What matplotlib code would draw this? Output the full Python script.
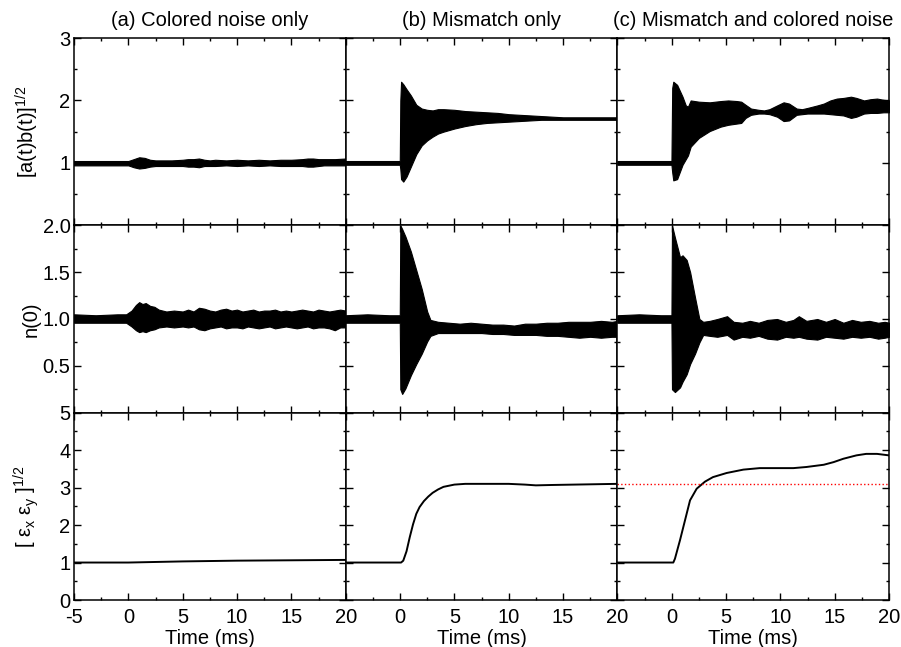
import matplotlib
matplotlib.use("Agg")
import matplotlib.pyplot as plt
from matplotlib.ticker import MultipleLocator, FuncFormatter

plt.rcParams['font.family'] = ['Liberation Sans', 'DejaVu Sans']
plt.rcParams['mathtext.fontset'] = 'custom'
plt.rcParams['mathtext.rm'] = 'Liberation Sans'
plt.rcParams['mathtext.it'] = 'Liberation Sans:italic'
plt.rcParams['mathtext.sf'] = 'Liberation Sans'
plt.rcParams['axes.unicode_minus'] = False

titles = ["(a) Colored noise only", "(b) Mismatch only", "(c) Mismatch and colored noise"]
ylabels = ["[a(t)b(t)]$^{1/2}$", "n(0)", "[ ε$_\\mathrm{x}$ ε$_\\mathrm{y}$ ]$^{1/2}$"]
xlabel = "Time (ms)"

# ---- row 1: [a(t)b(t)]^1/2, envelope of the fast oscillation ----
t_ab_a = [-5, -1, 0, 0.5, 1.0, 1.5, 2.0, 2.5, 3, 4, 5, 5.5, 6, 6.5, 7, 7.5, 8, 9, 10,
          11, 12, 13, 14, 15, 16, 16.5, 17, 17.5, 18, 19, 20]
hi_ab_a = [1.03, 1.03, 1.03, 1.06, 1.09, 1.08, 1.05, 1.04, 1.04, 1.04, 1.05, 1.06, 1.06, 1.07, 1.05, 1.04,
           1.05, 1.04, 1.05, 1.04, 1.05, 1.04, 1.05, 1.05, 1.06, 1.07, 1.07, 1.06, 1.06, 1.06, 1.07]
lo_ab_a = [0.96, 0.96, 0.96, 0.93, 0.91, 0.92, 0.94, 0.95, 0.95, 0.95, 0.95, 0.94, 0.94, 0.93, 0.95, 0.95,
           0.95, 0.96, 0.95, 0.96, 0.95, 0.96, 0.95, 0.95, 0.95, 0.94, 0.94, 0.95, 0.96, 0.96, 0.96]

t_ab_b = [-5, -0.02, 0.03, 0.1, 0.3, 0.6, 1.0, 1.5, 2.0, 2.5, 3.0, 3.5, 4, 5, 6, 7, 8, 9, 10,
          11, 12, 13, 14, 15, 16, 17, 18, 19, 20]
hi_ab_b = [1.03, 1.03, 2.0, 2.30, 2.26, 2.18, 2.08, 1.93, 1.87, 1.85, 1.84, 1.86, 1.86, 1.85, 1.83, 1.82,
           1.81, 1.80, 1.78, 1.77, 1.76, 1.75, 1.74, 1.73, 1.73, 1.73, 1.73, 1.73, 1.73]
lo_ab_b = [0.97, 0.97, 0.9, 0.74, 0.70, 0.78, 0.94, 1.14, 1.28, 1.36, 1.42, 1.47, 1.50, 1.55, 1.59, 1.62,
           1.64, 1.65, 1.66, 1.67, 1.68, 1.69, 1.69, 1.69, 1.69, 1.69, 1.69, 1.69, 1.69]

t_ab_c = [-5, -0.02, 0.05, 0.15, 0.5, 1.0, 1.3, 1.5, 1.75, 2.5, 3.5, 4.5, 5.2, 6.0, 6.4, 6.8, 7.3, 8.0,
          8.5, 9.0, 9.7, 10.3, 10.8, 11.5, 12.0, 12.5, 13.4, 14.0, 14.6, 15.2, 15.8, 16.5, 17.0, 17.7,
          18.3, 18.9, 19.5, 20]
hi_ab_c = [1.03, 1.03, 2.2, 2.30, 2.25, 2.06, 1.92, 1.90, 2.00, 1.98, 1.97, 1.99, 2.00, 1.99, 1.98, 1.93,
           1.87, 1.85, 1.84, 1.86, 1.92, 1.97, 1.95, 1.87, 1.86, 1.88, 1.92, 1.95, 2.00, 2.03, 2.04, 2.06,
           2.04, 2.00, 2.02, 2.03, 2.01, 2.00]
lo_ab_c = [0.97, 0.97, 0.85, 0.72, 0.74, 0.97, 1.06, 1.12, 1.26, 1.40, 1.51, 1.58, 1.61, 1.63, 1.64, 1.72,
           1.77, 1.79, 1.79, 1.78, 1.74, 1.67, 1.68, 1.77, 1.78, 1.79, 1.79, 1.79, 1.78, 1.77, 1.76, 1.72,
           1.74, 1.79, 1.80, 1.80, 1.81, 1.81]

# ---- row 2: n(0) envelope ----
t_n_a = [-5, -3, -1, -0.2, 0.3, 0.7, 1.0, 1.3, 1.6, 2.0, 2.4, 2.8, 3.5, 4.2, 5.0, 5.5, 6.0, 6.5, 7.0,
         7.5, 8.0, 8.5, 9.0, 9.5, 10.0, 10.5, 11.0, 11.5, 12.0, 12.5, 13, 13.5, 14, 14.5, 15, 15.5,
         16, 16.5, 17, 17.5, 18, 18.5, 19, 19.5, 20]
hi_n_a = [1.05, 1.04, 1.05, 1.05, 1.09, 1.15, 1.18, 1.16, 1.17, 1.14, 1.13, 1.10, 1.08, 1.09, 1.08, 1.10,
          1.08, 1.12, 1.11, 1.09, 1.08, 1.10, 1.11, 1.09, 1.10, 1.08, 1.09, 1.10, 1.08, 1.09, 1.09, 1.10,
          1.08, 1.09, 1.08, 1.09, 1.10, 1.09, 1.08, 1.10, 1.09, 1.08, 1.09, 1.10, 1.09]
lo_n_a = [0.96, 0.96, 0.96, 0.96, 0.92, 0.88, 0.86, 0.87, 0.86, 0.88, 0.89, 0.91, 0.92, 0.91, 0.92, 0.91,
          0.92, 0.89, 0.88, 0.90, 0.91, 0.92, 0.90, 0.91, 0.91, 0.90, 0.92, 0.91, 0.90, 0.91, 0.92, 0.90,
          0.91, 0.92, 0.91, 0.90, 0.91, 0.92, 0.90, 0.91, 0.91, 0.90, 0.88, 0.91, 0.91]

t_n_b = [-5, -3, -1, -0.02, 0.03, 0.2, 0.5, 1.0, 1.5, 2.0, 2.5, 2.8, 3.5, 4.5, 5.5, 6.5, 7.5, 8.5,
         9.5, 10.5, 11.5, 12.5, 13.5, 14.5, 15.5, 16.5, 17.5, 18.5, 19.5, 20]
hi_n_b = [1.04, 1.05, 1.04, 1.04, 2.0, 1.96, 1.88, 1.72, 1.52, 1.32, 1.08, 0.99, 0.97, 0.96, 0.95, 0.96,
          0.95, 0.94, 0.94, 0.93, 0.95, 0.95, 0.96, 0.96, 0.97, 0.97, 0.97, 0.98, 0.97, 0.98]
lo_n_b = [0.96, 0.96, 0.96, 0.96, 0.25, 0.20, 0.26, 0.40, 0.52, 0.63, 0.76, 0.82, 0.85, 0.85, 0.85, 0.85,
          0.85, 0.84, 0.84, 0.83, 0.83, 0.83, 0.82, 0.82, 0.81, 0.80, 0.81, 0.80, 0.81, 0.81]

t_n_c = [-5, -3, -1, -0.02, 0.03, 0.3, 0.77, 1.0, 1.38, 1.7, 2.15, 2.55, 2.9, 3.5, 4.2, 5.1, 5.7, 6.5,
         7.2, 8.0, 8.8, 9.7, 10.5, 11.2, 11.7, 12.4, 13.4, 14.2, 15.0, 15.8, 16.6, 17.4, 18.2, 19.0,
         19.6, 20]
hi_n_c = [1.04, 1.05, 1.04, 1.04, 2.0, 1.87, 1.66, 1.68, 1.63, 1.50, 1.23, 1.00, 0.97, 0.98, 1.00, 1.03,
          0.97, 0.96, 0.98, 0.96, 0.99, 1.00, 0.97, 0.99, 1.03, 0.98, 1.00, 0.97, 1.00, 0.96, 0.99, 0.97,
          0.98, 0.96, 0.97, 0.96]
lo_n_c = [0.96, 0.96, 0.96, 0.96, 0.25, 0.22, 0.27, 0.33, 0.41, 0.52, 0.63, 0.75, 0.83, 0.82, 0.81, 0.83,
          0.78, 0.81, 0.80, 0.82, 0.79, 0.78, 0.81, 0.80, 0.81, 0.79, 0.78, 0.81, 0.80, 0.79, 0.81, 0.80,
          0.81, 0.79, 0.80, 0.81]

# ---- row 3: emittance growth ----
t_e_a = [-5, 0, 5, 10, 15, 20]
e_a = [1.0, 1.0, 1.03, 1.05, 1.06, 1.07]

t_e_b = [-5, 0, 0.1, 0.3, 0.6, 0.9, 1.2, 1.5, 1.8, 2.2, 2.6, 3.0, 3.5, 4.0, 4.5, 5, 6, 8, 10,
         11.5, 12.5, 14, 16, 18, 20]
e_b = [1.0, 1.0, 1.0, 1.05, 1.3, 1.68, 2.02, 2.3, 2.48, 2.64, 2.76, 2.86, 2.95, 3.02, 3.05, 3.08, 3.10,
       3.10, 3.10, 3.08, 3.06, 3.07, 3.08, 3.09, 3.10]

t_e_c = [-5, 0, 0.15, 0.3, 0.77, 1.23, 1.69, 2.3, 3.07, 3.8, 5.06, 6.6, 8.1, 9.7, 11.2, 12.4, 14,
         14.9, 15.8, 17, 17.9, 18.9, 20]
e_c = [1.0, 1.0, 1.0, 1.1, 1.6, 2.13, 2.66, 2.97, 3.16, 3.28, 3.39, 3.48, 3.52, 3.52, 3.52, 3.55,
       3.61, 3.68, 3.77, 3.86, 3.90, 3.90, 3.86]
e_ref = 3.1

envelopes = [
    [(t_ab_a, hi_ab_a, lo_ab_a), (t_ab_b, hi_ab_b, lo_ab_b), (t_ab_c, hi_ab_c, lo_ab_c)],
    [(t_n_a, hi_n_a, lo_n_a), (t_n_b, hi_n_b, lo_n_b), (t_n_c, hi_n_c, lo_n_c)],
]
emit = [(t_e_a, e_a), (t_e_b, e_b), (t_e_c, e_c)]

fig, axes = plt.subplots(3, 3, figsize=(9.01, 6.47), dpi=100)
fig.subplots_adjust(left=74 / 901, right=889 / 901, top=1 - 38 / 647, bottom=1 - 600 / 647,
                    wspace=0, hspace=0)

ylims = [(0, 3), (0, 2), (0, 5)]
ymaj = [1, 0.5, 1]

for r in range(3):
    for c in range(3):
        ax = axes[r, c]
        if r < 2:
            t, hi, lo = envelopes[r][c]
            ax.fill_between(t, lo, hi, color='black', linewidth=0.8, edgecolor='black')
        else:
            t, e = emit[c]
            ax.plot(t, e, color='black', lw=1.4)
            if c == 2:
                ax.axhline(e_ref, color='red', ls=':', lw=1.0)
        ax.set_xlim(-5, 20)
        ax.set_ylim(*ylims[r])
        ax.xaxis.set_major_locator(MultipleLocator(5))
        ax.xaxis.set_minor_locator(MultipleLocator(2.5))
        ax.yaxis.set_major_locator(MultipleLocator(ymaj[r]))
        ax.yaxis.set_minor_locator(MultipleLocator(ymaj[r] / 2))
        ax.tick_params(which='both', direction='in', top=True, right=True, width=1,
                       labelsize=14.5)
        ax.tick_params(which='major', length=5)
        ax.tick_params(which='minor', length=2.5)
        ax.tick_params(axis='x', pad=5.5)
        ax.tick_params(axis='y', pad=2.5)
        for s in ax.spines.values():
            s.set_linewidth(1.1)
        if c == 0:
            if r == 1:
                ax.yaxis.set_major_formatter(
                    FuncFormatter(lambda v, p: '' if abs(v) < 1e-9 else f"{v:.1f}"))
            elif r == 0:
                ax.yaxis.set_major_formatter(
                    FuncFormatter(lambda v, p: '' if abs(v) < 1e-9 else f"{v:.0f}"))
            ax.set_ylabel(ylabels[r], fontsize=14.5)
            ax.yaxis.set_label_coords(-0.123, 0.5)
        else:
            ax.tick_params(labelleft=False)
        if r == 2:
            ax.set_xlabel(xlabel, fontsize=14.5, labelpad=1.5)
            if c > 0:
                ax.xaxis.set_major_formatter(
                    FuncFormatter(lambda v, p: '' if v < -4 else f"{v:.0f}"))
        else:
            ax.tick_params(labelbottom=False)
        if r == 0:
            ax.set_title(titles[c], fontsize=14.5, pad=9)

fig.savefig("out.png", dpi=100)
